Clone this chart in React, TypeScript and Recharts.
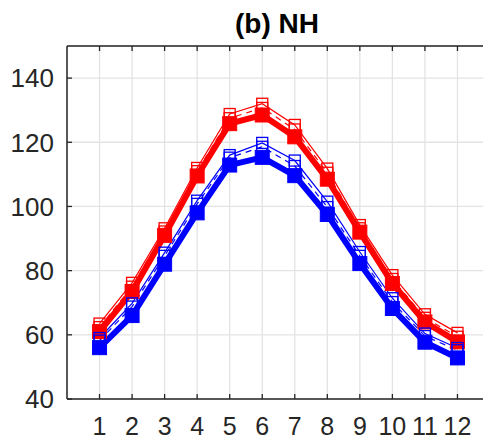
import React from "react";
import { LineChart, Line, XAxis, YAxis, CartesianGrid, ReferenceLine } from "recharts";

const months = [1, 2, 3, 4, 5, 6, 7, 8, 9, 10, 11, 12];
const yTicks = [40, 60, 80, 100, 120, 140];
const redThick = [61, 73.5, 91, 109.5, 125.8, 128.5, 121.7, 108.5, 92, 76, 64, 57.8];
const blueThick = [56, 66, 82, 98, 112.9, 115.3, 109.6, 97.5, 82.2, 68.2, 57.7, 52.8];
const redThinSolid = [63.5, 76.2, 93.2, 112, 128.8, 132, 125.4, 111.8, 94.2, 78.6, 66.4, 60.6];
const redThinDashed = [62.4, 75, 92.2, 111, 127.5, 130.7, 124, 110.5, 93.2, 77.4, 65.3, 59.4];
const blueThinSolid = [59, 69.8, 85.6, 101.8, 116, 119.8, 114.3, 101.5, 85.8, 71.4, 60.4, 55.9];
const blueThinDashed = [58.2, 68.8, 84.6, 100.8, 115.2, 118.6, 112.6, 99.8, 84.6, 70.2, 59.6, 55.2];

const data = months.map((m, i) => ({
  month: m,
  rk: redThick[i],
  bk: blueThick[i],
  rs: redThinSolid[i],
  rd: redThinDashed[i],
  bs: blueThinSolid[i],
  bd: blueThinDashed[i],
}));

const PLOT_TOP = 46;
const PLOT_BOTTOM = 399;
const PLOT_LEFT = 67;
const AXIS = "#262626";
const FONT = "'Liberation Sans', Arial, Helvetica, sans-serif";

const square = (size: number, color: string, filled: boolean) => (p: any) => {
  if (p.cx == null || p.cy == null) return <g key={p.key} />;
  return (
    <rect
      key={p.key ?? `${p.index}`}
      x={p.cx - size / 2}
      y={p.cy - size / 2}
      width={size}
      height={size}
      fill={filled ? color : "none"}
      stroke={color}
      strokeWidth={filled ? 1 : 1.3}
    />
  );
};

const XTick = (props: any) => {
  const { x, payload } = props;
  return (
    <g>
      <line x1={x} x2={x} y1={PLOT_BOTTOM} y2={PLOT_BOTTOM - 5} stroke={AXIS} strokeWidth={1.3} />
      <line x1={x} x2={x} y1={PLOT_TOP} y2={PLOT_TOP + 5} stroke={AXIS} strokeWidth={1.3} />
      <text x={x} y={435} textAnchor="middle" fontSize={25} fill={AXIS} fontFamily={FONT}>
        {payload.value}
      </text>
    </g>
  );
};

const YTick = (props: any) => {
  const { y, payload } = props;
  return (
    <g>
      <line x1={PLOT_LEFT} x2={PLOT_LEFT + 5} y1={y} y2={y} stroke={AXIS} strokeWidth={1.3} />
      <text x={54} y={y} dy="0.355em" textAnchor="end" fontSize={26} fill={AXIS} fontFamily={FONT}>
        {payload.value}
      </text>
    </g>
  );
};

export default function App() {
  return (
    <div style={{ position: "absolute", left: 0, top: 0, width: 483, height: 441, overflow: "hidden", background: "#fff" }}>
      <LineChart
        width={500}
        height={441}
        data={data}
        margin={{ top: PLOT_TOP, right: 10, bottom: 0, left: 0 }}
      >
        <CartesianGrid stroke="#e3e3e3" strokeWidth={1.3} />
        <XAxis
          dataKey="month"
          type="number"
          domain={[0, 13]}
          ticks={months}
          interval={0}
          allowDataOverflow
          height={42}
          tickSize={0}
          tickLine={false}
          tick={<XTick />}
          axisLine={{ stroke: AXIS, strokeWidth: 1.5 }}
        />
        <YAxis
          type="number"
          domain={[40, 150]}
          ticks={yTicks}
          interval={0}
          allowDataOverflow
          width={67}
          tickSize={0}
          tickLine={false}
          tick={<YTick />}
          axisLine={{ stroke: AXIS, strokeWidth: 1.5 }}
        />
        <ReferenceLine y={150} stroke={AXIS} strokeWidth={1.5} />
        <Line dataKey="rk" stroke="#ff0000" strokeWidth={6} dot={square(14, "#ff0000", true)} isAnimationActive={false} />
        <Line dataKey="bk" stroke="#0000ff" strokeWidth={6} dot={square(14, "#0000ff", true)} isAnimationActive={false} />
        <Line dataKey="rs" stroke="#ff0000" strokeWidth={1.2} dot={square(11, "#ff0000", false)} isAnimationActive={false} />
        <Line dataKey="rd" stroke="#ff0000" strokeWidth={1.2} strokeDasharray="6 5" dot={square(11, "#ff0000", false)} isAnimationActive={false} />
        <Line dataKey="bs" stroke="#0000ff" strokeWidth={1.2} dot={square(11, "#0000ff", false)} isAnimationActive={false} />
        <Line dataKey="bd" stroke="#0000ff" strokeWidth={1.2} strokeDasharray="6 5" dot={square(11, "#0000ff", false)} isAnimationActive={false} />
      </LineChart>
      <svg width={483} height={40} style={{ position: "absolute", left: 0, top: 0 }}>
        <text x={277} y={33} textAnchor="middle" fontSize={28} fontWeight="bold" fill="#000" fontFamily={FONT}>
          (b) NH
        </text>
      </svg>
    </div>
  );
}
